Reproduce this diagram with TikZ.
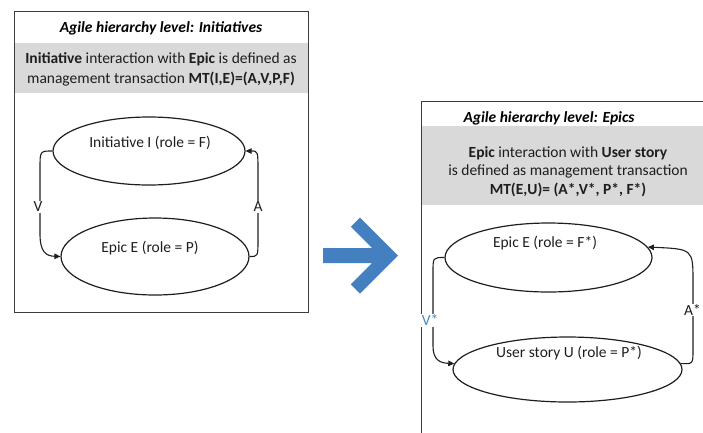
\documentclass[tikz,border=0pt]{standalone}
\usepackage{fontspec}
\setmainfont{Carlito}
\usetikzlibrary{shapes.geometric,arrows.meta}
\definecolor{bandgray}{RGB}{217,217,217}
\definecolor{framegray}{RGB}{60,60,60}
\definecolor{inkgray}{RGB}{30,30,30}
\definecolor{arrowblue}{RGB}{68,128,192}
\definecolor{labelblue}{RGB}{70,140,200}
\begin{document}
\begin{tikzpicture}[x=1pt,y=-1pt,
  every node/.style={font=\fontsize{15.5}{19}\selectfont,text=inkgray},
  frame/.style={draw=framegray,line width=1pt},
  role/.style={ellipse,draw=inkgray,line width=1.2pt,inner sep=0pt},
  conn/.style={draw=inkgray,line width=1.1pt,-{Triangle[length=6pt,width=5.5pt]}},
  lbl/.style={fill=white,inner sep=1pt},
  title/.style={font=\fontsize{15.5}{19}\selectfont\bfseries\itshape,text=black},
]
\useasboundingbox (0,0) rectangle (703,432);
\clip (0,0) rectangle (703,432);

% ---- panel: initiatives ----
\fill[bandgray] (14,43) rectangle (308,93);
\draw[frame] (14,11) rectangle (308,312);
\node[title] (ti) at (161,28) {Agile hierarchy level: Initiatives};
\node[align=center,font=\fontsize{15.5}{20.5}\selectfont] (di) at (161,69.5)
  {\textbf{Initiative} interaction with \textbf{Epic} is defined as\\
   management transaction \textbf{MT(I,E)=(A,V,P,F)}};

\node[role,minimum width=192pt,minimum height=68pt] (e1) at (149,151) {};
\node (e1t) at (150,143) {Initiative I (role = F)};
\node[role,minimum width=188pt,minimum height=77pt] (e2) at (155,256.5) {};
\node (e2t) at (150,248) {Epic E (role = P)};

\draw[conn] (e1.west) .. controls (40,151) .. (40,168) -- (40,234)
  .. controls (40,252) and (46,256) .. (e2.west);
\node[lbl] (lv) at (38,207) {V};
\draw[conn] (e2.east) .. controls (258,256.5) .. (258,240) -- (258,172)
  .. controls (258,151) .. (e1.east);
\node[lbl] (la) at (258,207) {A};

% ---- panel: epics ----
\fill[bandgray] (421,126) rectangle (720,205);
\draw[frame] (421,440) -- (421,101) -- (720,101);
\node[title] (te) at (549,118) {Agile hierarchy level: Epics};
\node[align=center,font=\fontsize{15.5}{18.5}\selectfont] (de) at (568,171.5)
  {\textbf{Epic} interaction with \textbf{User story}\\
   is defined as management transaction\\
   \textbf{MT(E,U)= (A*,V*, P*, F*)}};

\node[role,minimum width=207pt,minimum height=69pt] (e3) at (548.5,257.5) {};
\node (e3t) at (545,243) {Epic E (role = F*)};
\node[role,minimum width=229pt,minimum height=65pt] (e4) at (567.5,369.5) {};
\node (e4t) at (569,353) {User story U (role = P*)};

\draw[conn] (e3.west) .. controls (433,257.5) .. (433,272) -- (433,346)
  .. controls (433,360) and (440,363) .. (e4.177);
\node[lbl,text=labelblue] (lvs) at (430,320) {V*};
\draw[conn] (e4.3) .. controls (693,364) .. (693,350) -- (693,282)
  .. controls (693,249) .. (e3.6);
\node[lbl,inner sep=0.5pt] (las) at (692.5,310) {A*};

% ---- transition arrow between the panels ----
\fill[arrowblue] (323,248) -- (372,248) -- (350.8,226.7) -- (360,217.5)
  -- (398,255.5) -- (360,293.5) -- (350.8,284.3) -- (372,263) -- (323,263) -- cycle;
\end{tikzpicture}
\end{document}
